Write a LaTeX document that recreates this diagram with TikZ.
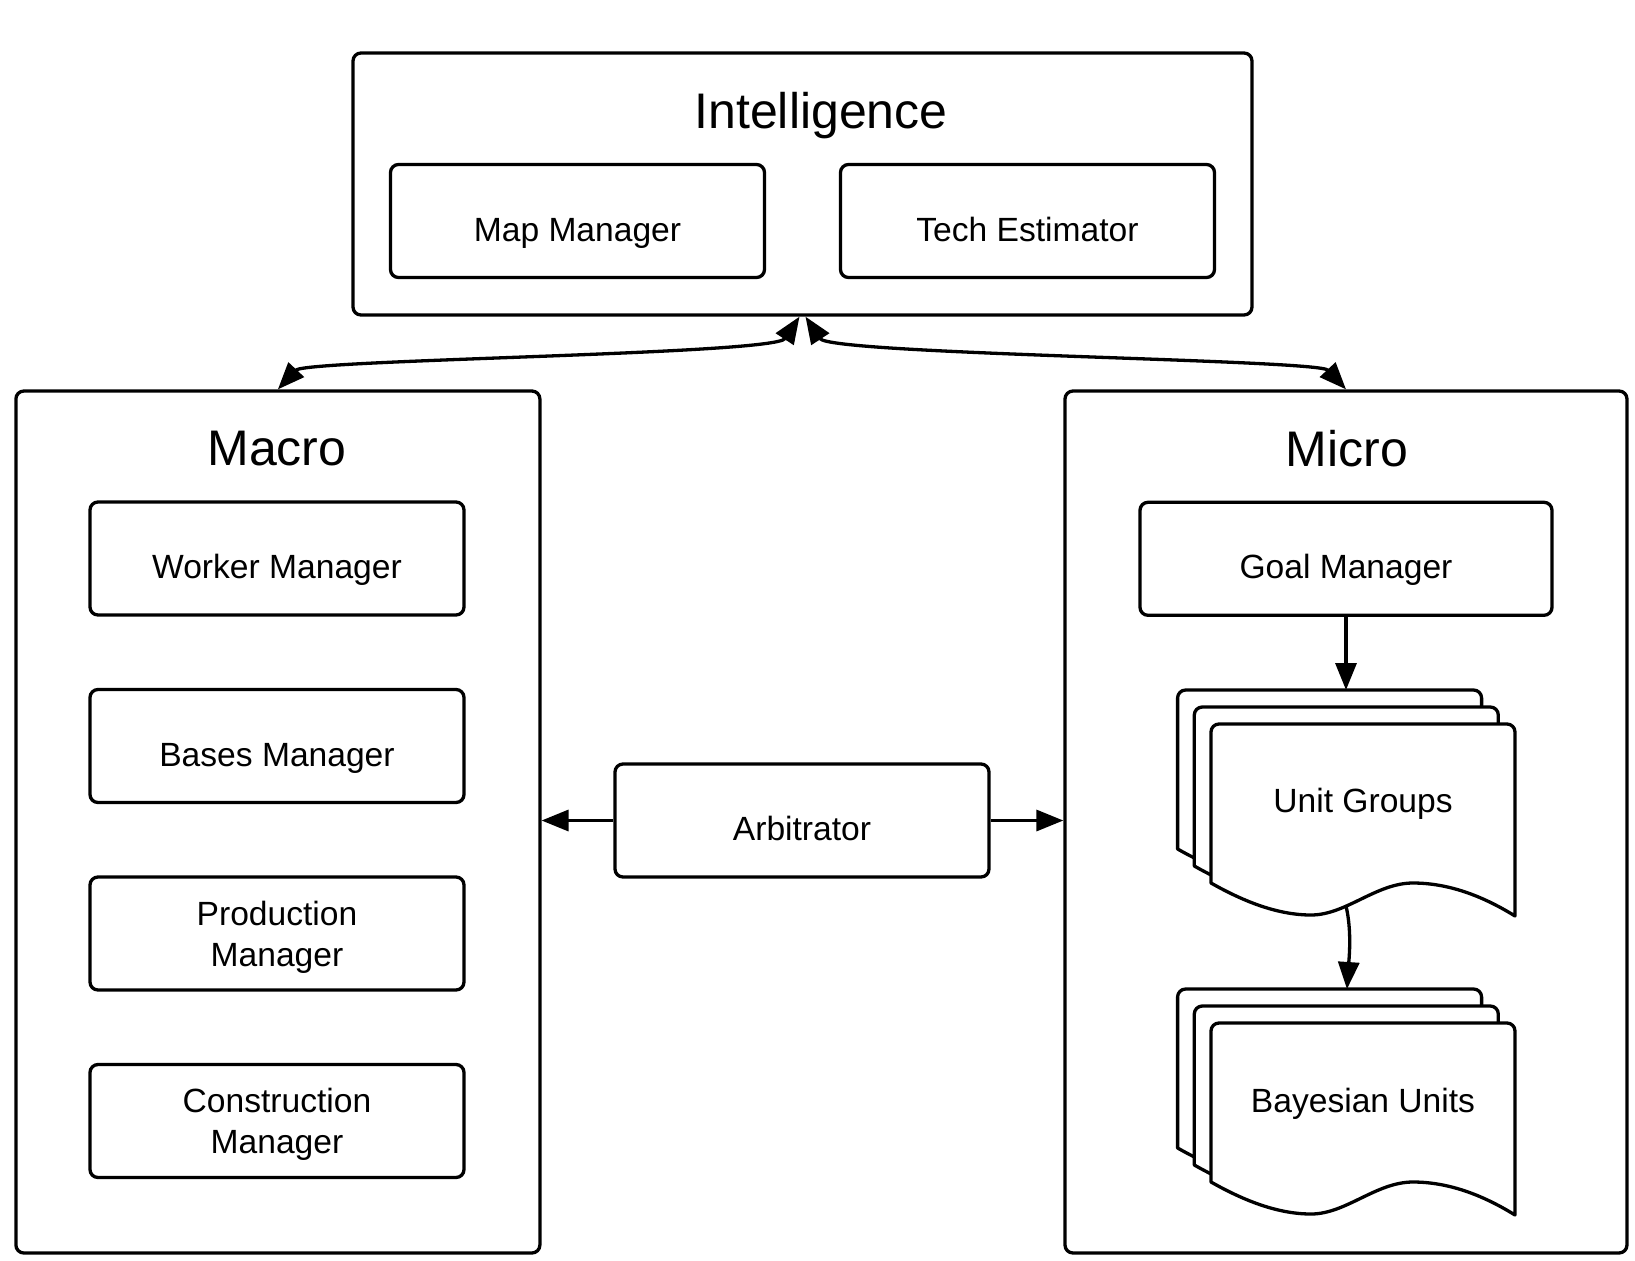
\documentclass[tikz,border=0pt]{standalone}
\usepackage{fontspec}
\setmainfont{Liberation Sans}
\usetikzlibrary{arrows.meta,calc}
\begin{document}
\begin{tikzpicture}[x=0.5pt,y=0.5pt,
  every node/.style={font=\fontsize{16.8pt}{20.5pt}\selectfont},
  box/.style={draw, line width=1.65pt, rounded corners=4pt, minimum width=187pt, minimum height=56.5pt, text height=20pt, text depth=0pt, inner sep=0pt},
  boxtwo/.style={draw, line width=1.65pt, rounded corners=4pt, minimum width=187pt, minimum height=56.5pt, align=center, text depth=0pt, inner sep=0pt},
  bigbox/.style={draw, line width=1.65pt, rounded corners=4pt, inner sep=0pt},
  ttl/.style={anchor=base, font=\fontsize{25pt}{30pt}\selectfont, inner sep=0pt},
  lbl/.style={anchor=base, inner sep=0pt},
  sheet/.style={draw, fill=white, line width=1.65pt, line join=round},
  arr/.style={line width=1.65pt, -{Triangle[length=13.5pt, width=10.5pt]}},
  barr/.style={line width=1.65pt, {Triangle[length=13.5pt, width=10.5pt]}-{Triangle[length=13.5pt, width=10.5pt]}}
]
\useasboundingbox (0,0) rectangle (1635,-1260);

% big containers
\node[bigbox, minimum width=449.5pt, minimum height=131pt] (intel) at (802.5,-184) {};
\node[bigbox, minimum width=262pt, minimum height=431pt] (macro) at (277.9,-822) {};
\node[bigbox, minimum width=281pt, minimum height=431pt] (micro) at (1346,-822) {};

% titles
\node[ttl] (intelT) at (821,-128) {Intelligence};
\node[ttl] (macroT) at (277,-465) {Macro};
\node[ttl] (microT) at (1347,-466) {Micro};

% intelligence modules
\node[box] (map) at (577.5,-221) {Map Manager};
\node[box] (tech) at (1027.5,-221) {Tech Estimator};

% macro modules
\node[box] (worker) at (277,-558.5) {Worker Manager};
\node[box] (bases) at (277,-746) {Bases Manager};
\node[boxtwo] (prod) at (277,-933.5) {Production\\Manager};
\node[boxtwo] (cons) at (277,-1121) {Construction\\Manager};

% arbitrator
\node[box] (arb) at (802,-820.5) {Arbitrator};

% micro modules
\node[box, minimum width=206pt] (goal) at (1346,-558.8) {Goal Manager};

% document stacks
\newcommand{\docsheet}[2]{%
  \begin{scope}[shift={(#1,#2)}]
  \path[sheet] (0,-159) -- (0,-8) arc[start angle=180, end angle=90, radius=4pt]
    -- (296,0) arc[start angle=90, end angle=0, radius=4pt]
    -- (304,-192) .. controls (275,-174) and (240,-159) .. (202,-159)
    .. controls (165,-159) and (135,-191) .. (100,-191)
    .. controls (65,-191) and (30,-176) .. (0,-159) -- cycle;
  \end{scope}}
\docsheet{1177.6}{-690}
\docsheet{1194.3}{-707}
\docsheet{1211}{-724}
\node[lbl] (ug) at (1363,-812) {Unit Groups};
\docsheet{1177.6}{-989}
\docsheet{1194.3}{-1006}
\docsheet{1211}{-1023}
\node[lbl] (bu) at (1363,-1112) {Bayesian Units};

\coordinate (ugtop) at (1346,-690);
\coordinate (ugwave) at (1346,-906);
\coordinate (butop) at (1347,-989);

% connectors
\draw[arr] (goal.south) -- (goal.south |- ugtop);
\draw[arr] (ugwave) .. controls +(6,-25) and +(2,30) .. (butop);
\draw[arr] (arb.west) -- (arb.west -| macro.east);
\draw[arr] (arb.east) -- (arb.east -| micro.west);
\draw[barr] ($(intel.south)+(-3,0)$) .. controls +(-25,-38) and +(28,30) .. (macro.north);
\draw[barr] ($(intel.south)+(3,0)$) .. controls +(25,-38) and +(-28,30) .. (micro.north);
\end{tikzpicture}
\end{document}
